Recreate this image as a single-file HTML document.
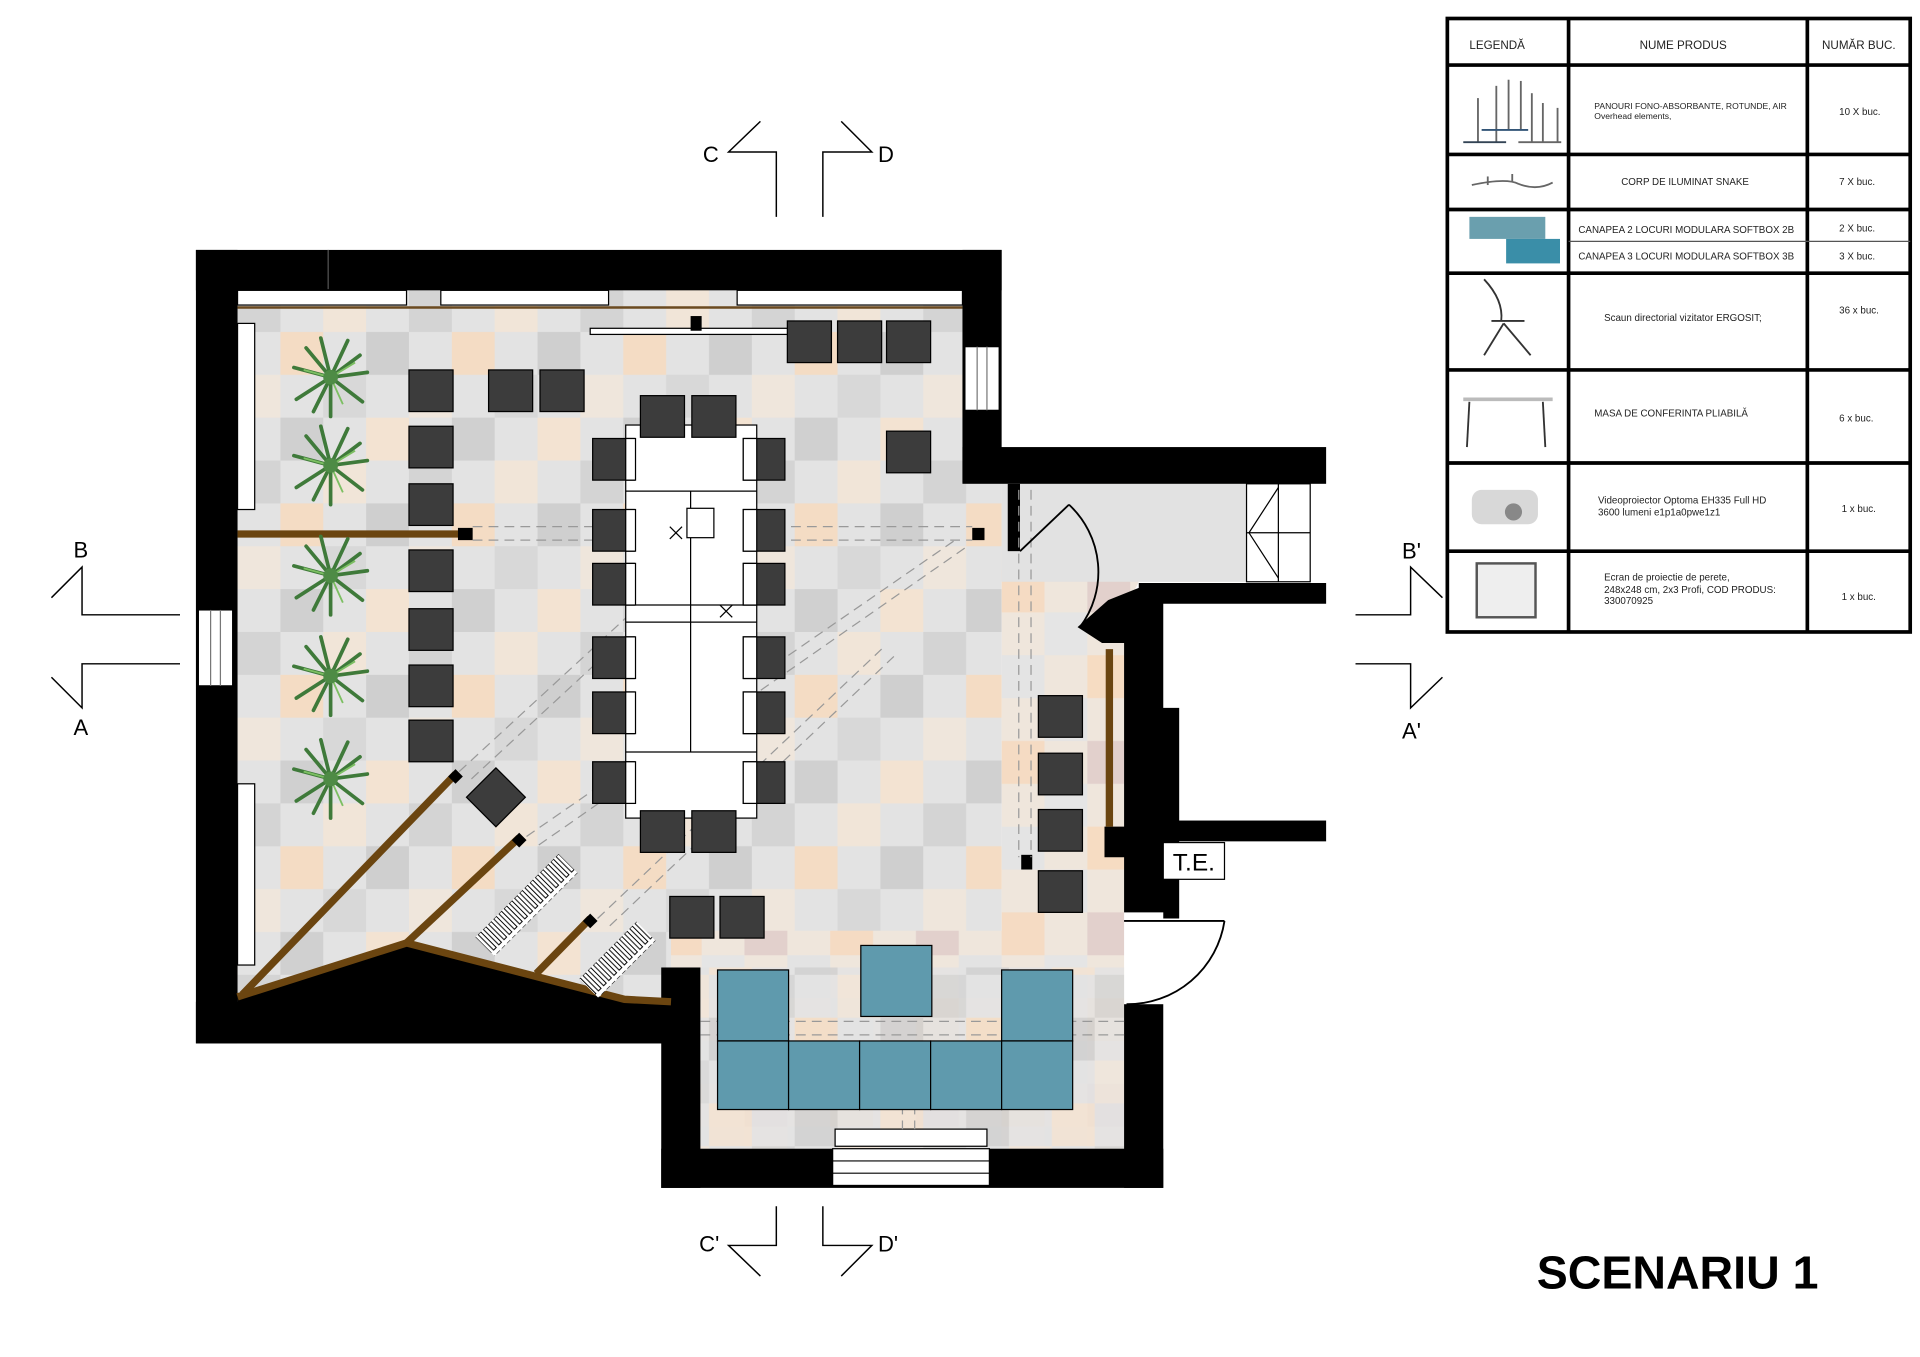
<!DOCTYPE html>
<html><head><meta charset="utf-8"><style>
html,body{margin:0;padding:0;background:#fff;width:1920px;height:1357px;overflow:hidden}
svg{display:block}
text{font-family:"Liberation Sans",sans-serif}
</style></head><body>
<svg width="1920" height="1357" viewBox="0 0 1568 1108" xmlns="http://www.w3.org/2000/svg">
<defs>
<pattern id="tiles" x="194" y="236" width="140" height="140" patternUnits="userSpaceOnUse">
<rect width="140" height="140" fill="#e3e3e3"/>
<rect x="0" y="0" width="35" height="35" fill="#d4d4d4"/>
<rect x="70" y="0" width="35" height="35" fill="#f1e5d8"/>
<rect x="35" y="35" width="35" height="35" fill="#f4dcc4"/>
<rect x="105" y="35" width="35" height="35" fill="#cfcfcf"/>
<rect x="0" y="70" width="35" height="35" fill="#efe6dc"/>
<rect x="70" y="70" width="35" height="35" fill="#d8d8d8"/>
<rect x="35" y="105" width="35" height="35" fill="#d0d0d0"/>
<rect x="105" y="105" width="35" height="35" fill="#f3e3d2"/>
</pattern>
<pattern id="tiles2" x="818" y="395" width="140" height="140" patternUnits="userSpaceOnUse">
<rect width="140" height="140" fill="#efe6dc"/>
<rect x="0" y="0" width="35" height="35" fill="#e4e4e4"/>
<rect x="70" y="0" width="35" height="35" fill="#f6dcc2"/>
<rect x="35" y="35" width="35" height="35" fill="#e4e4e4"/>
<rect x="105" y="35" width="35" height="35" fill="#f3dcc6"/>
<rect x="0" y="70" width="35" height="35" fill="#f5dbc3"/>
<rect x="70" y="70" width="35" height="35" fill="#e2d0cc"/>
<rect x="35" y="105" width="35" height="35" fill="#e5e5e5"/>
<rect x="105" y="105" width="35" height="35" fill="#e3e3e3"/>
</pattern>
<pattern id="stripes" width="6" height="22" patternUnits="userSpaceOnUse">
<rect width="6" height="22" fill="#fff"/>
<rect x="1" y="2" width="3" height="18" fill="none" stroke="#000" stroke-width="0.8"/>
</pattern>
<g id="plant">
<g stroke="#3f7a3a" stroke-width="3" stroke-linecap="round">
<line x1="0" y1="0" x2="-30" y2="-8"/><line x1="0" y1="0" x2="30" y2="-4"/>
<line x1="0" y1="0" x2="-8" y2="-32"/><line x1="0" y1="0" x2="14" y2="-30"/>
<line x1="0" y1="0" x2="-28" y2="18"/><line x1="0" y1="0" x2="26" y2="20"/>
<line x1="0" y1="0" x2="0" y2="32"/><line x1="0" y1="0" x2="-20" y2="-24"/>
<line x1="0" y1="0" x2="24" y2="-18"/><line x1="0" y1="0" x2="-14" y2="28"/>
</g>
<g stroke="#7cbf62" stroke-width="1.5"><line x1="0" y1="0" x2="-22" y2="-6"/><line x1="0" y1="0" x2="20" y2="-12"/><line x1="0" y1="0" x2="10" y2="22"/></g>
<circle r="6" fill="#4e8b45"/>
</g>
</defs>

<!-- floor -->
<polygon points="194,236 786,236 786,395 818,395 818,818 194,818" fill="url(#tiles)"/>
<polygon points="818,395 1018,395 1018,475 930,475 918,500 918,938 572,938 572,818 548,818 548,760 818,760" fill="url(#tiles2)"/>
<rect x="818" y="395" width="200" height="80" fill="#e2e2e2"/>
<rect x="572" y="790" width="346" height="148" fill="url(#tiles)" opacity="0.85"/>

<!-- walls -->
<g fill="#000">
<rect x="160" y="204" width="658" height="33"/>
<rect x="160" y="204" width="34" height="648"/>
<rect x="160" y="818" width="388" height="34"/>
<rect x="786" y="204" width="32" height="190"/>
<rect x="786" y="365" width="297" height="30"/>
<rect x="823" y="395" width="10" height="55"/>
<polygon points="930,476 1083,476 1083,493 950,493 950,578 963,578 963,750 950,750 950,745 918,745 918,700 902,700 902,675 918,675 918,525 900,525 880,512 905,490 930,480"/>
<rect x="950" y="670" width="133" height="17"/>
<rect x="540" y="790" width="32" height="180"/>
<rect x="540" y="938" width="410" height="32"/>
<rect x="918" y="820" width="32" height="150"/>
<polygon points="194,818 194,812 332,770 510,818 548,818 548,852 194,852"/>
</g>
<line x1="268" y1="204" x2="268" y2="236" stroke="#555" stroke-width="1"/>

<!-- windows -->
<g fill="#fff" stroke="#000" stroke-width="1">
<rect x="194" y="237" width="138" height="12"/>
<rect x="360" y="237" width="137" height="12"/>
<rect x="602" y="237" width="184" height="12"/>
<rect x="162" y="498" width="28" height="62"/>
<rect x="788" y="283" width="28" height="52"/>
<rect x="194" y="264" width="14" height="152"/>
<rect x="194" y="640" width="14" height="148"/>
<rect x="482" y="268" width="182" height="5"/>
<rect x="1018" y="395" width="52" height="80"/>
<rect x="682" y="922" width="124" height="14"/>
<rect x="680" y="938" width="128" height="30"/>
</g>
<g stroke="#777" stroke-width="1"><line x1="172" y1="498" x2="172" y2="560"/><line x1="180" y1="498" x2="180" y2="560"/><line x1="798" y1="283" x2="798" y2="335"/><line x1="806" y1="283" x2="806" y2="335"/></g>
<line x1="194" y1="251" x2="786" y2="251" stroke="#6b4a20" stroke-width="2"/>
<g stroke="#000" stroke-width="1" fill="none">
<line x1="1044" y1="395" x2="1044" y2="475"/><line x1="1018" y1="435" x2="1070" y2="435"/>
<polyline points="1044,398 1020,435 1044,472"/>
<line x1="680" y1="948" x2="808" y2="948"/><line x1="680" y1="958" x2="808" y2="958"/>
</g>
<rect x="564" y="258" width="9" height="12" fill="#000"/>

<!-- brown partitions -->
<g stroke="#6b4510" stroke-width="6" stroke-linecap="butt" fill="none">
<line x1="194" y1="436" x2="375" y2="436"/>
<polyline points="194,814 332,770 510,816 548,818"/>
<line x1="198" y1="812" x2="372" y2="632"/>
<line x1="332" y1="770" x2="424" y2="684"/>
<line x1="438" y1="795" x2="482" y2="750"/>
<line x1="906" y1="530" x2="906" y2="675"/>
</g>
<g fill="#000">
<rect x="374" y="431" width="12" height="10"/>
<rect x="794" y="431" width="10" height="10"/>
<rect x="834" y="698" width="9" height="12"/>
<polygon points="366,634 372,628 378,634 372,640"/>
<polygon points="418,686 424,680 430,686 424,692"/>
<polygon points="476,752 482,746 488,752 482,758"/>
</g>

<!-- dashed lines -->
<g stroke="#999" stroke-width="1" stroke-dasharray="8,5" fill="none">
<line x1="386" y1="430" x2="794" y2="430"/><line x1="386" y1="441" x2="794" y2="441"/>
<line x1="832" y1="400" x2="832" y2="700"/><line x1="842" y1="400" x2="842" y2="700"/>
<line x1="572" y1="834" x2="918" y2="834"/><line x1="572" y1="845" x2="918" y2="845"/>
<line x1="375" y1="630" x2="580" y2="441"/><line x1="385" y1="636" x2="590" y2="446"/>
<line x1="430" y1="683" x2="780" y2="441"/><line x1="440" y1="690" x2="790" y2="446"/>
<line x1="488" y1="750" x2="720" y2="530"/><line x1="498" y1="756" x2="730" y2="536"/>
<line x1="737" y1="850" x2="737" y2="922"/><line x1="747" y1="850" x2="747" y2="922"/>
</g>

<!-- door arcs -->
<g stroke="#000" stroke-width="1.5" fill="none">
<line x1="833" y1="450" x2="873" y2="412"/>
<path d="M873,412 A75,75 0 0 1 882,512"/>
<line x1="918" y1="752" x2="1000" y2="752"/>
<path d="M1000,752 A80,80 0 0 1 920,820"/>
</g>
<rect x="950" y="688" width="50" height="30" fill="#fff" stroke="#000"/>
<text x="975" y="711" font-size="20" text-anchor="middle">T.E.</text>

<!-- table -->
<rect x="511" y="347" width="107" height="321" fill="#fff" stroke="#000" stroke-width="1"/>
<g stroke="#000" stroke-width="1">
<line x1="511" y1="401" x2="618" y2="401"/><line x1="511" y1="494" x2="618" y2="494"/>
<line x1="511" y1="508" x2="618" y2="508"/><line x1="511" y1="614" x2="618" y2="614"/>
<line x1="564" y1="401" x2="564" y2="614"/>
<rect x="561" y="415" width="22" height="24" fill="#fff"/>
<line x1="547" y1="430" x2="557" y2="440"/><line x1="557" y1="430" x2="547" y2="440"/>
<line x1="588" y1="494" x2="598" y2="504"/><line x1="598" y1="494" x2="588" y2="504"/>
</g>
<!-- table chairs -->
<g fill="#3c3c3c" stroke="#000" stroke-width="1">
<rect x="523" y="323" width="36" height="34"/><rect x="565" y="323" width="36" height="34"/>
<rect x="523" y="662" width="36" height="34"/><rect x="565" y="662" width="36" height="34"/>
<rect x="484" y="358" width="34" height="34"/><rect x="484" y="416" width="34" height="34"/><rect x="484" y="460" width="34" height="34"/><rect x="484" y="520" width="34" height="34"/><rect x="484" y="565" width="34" height="34"/><rect x="484" y="622" width="34" height="34"/>
<rect x="607" y="358" width="34" height="34"/><rect x="607" y="416" width="34" height="34"/><rect x="607" y="460" width="34" height="34"/><rect x="607" y="520" width="34" height="34"/><rect x="607" y="565" width="34" height="34"/><rect x="607" y="622" width="34" height="34"/>
</g>
<g fill="#fff" stroke="#000" stroke-width="1">
<rect x="511" y="358" width="8" height="34"/><rect x="511" y="416" width="8" height="34"/><rect x="511" y="460" width="8" height="34"/><rect x="511" y="520" width="8" height="34"/><rect x="511" y="565" width="8" height="34"/><rect x="511" y="622" width="8" height="34"/>
<rect x="607" y="358" width="11" height="34"/><rect x="607" y="416" width="11" height="34"/><rect x="607" y="460" width="11" height="34"/><rect x="607" y="520" width="11" height="34"/><rect x="607" y="565" width="11" height="34"/><rect x="607" y="622" width="11" height="34"/>
</g>
<!-- other chairs -->
<g fill="#3c3c3c" stroke="#000" stroke-width="1">
<rect x="334" y="302" width="36" height="34"/><rect x="334" y="348" width="36" height="34"/><rect x="334" y="395" width="36" height="34"/>
<rect x="334" y="449" width="36" height="34"/><rect x="334" y="497" width="36" height="34"/><rect x="334" y="543" width="36" height="34"/><rect x="334" y="588" width="36" height="34"/>
<rect x="399" y="302" width="36" height="34"/><rect x="441" y="302" width="36" height="34"/>
<rect x="643" y="262" width="36" height="34"/><rect x="684" y="262" width="36" height="34"/><rect x="724" y="262" width="36" height="34"/>
<rect x="724" y="352" width="36" height="34"/>
<rect x="547" y="732" width="36" height="34"/><rect x="588" y="732" width="36" height="34"/>
<rect x="848" y="568" width="36" height="34"/><rect x="848" y="615" width="36" height="34"/><rect x="848" y="661" width="36" height="34"/><rect x="848" y="711" width="36" height="34"/>
<rect x="388" y="634" width="34" height="34" transform="rotate(45 405 651)"/>
</g>
<!-- radiators -->
<g stroke="none">
<rect x="382" y="728" width="96" height="22" fill="url(#stripes)" transform="rotate(-45 430 739)"/>
<rect x="471" y="772" width="66" height="22" fill="url(#stripes)" transform="rotate(-45 505 783)"/>
</g>

<!-- sofas -->
<g fill="#5f9aad" stroke="#000" stroke-width="1">
<rect x="586" y="792" width="58" height="58"/><rect x="818" y="792" width="58" height="58"/>
<rect x="703" y="772" width="58" height="58"/>
<rect x="586" y="850" width="58" height="56"/><rect x="644" y="850" width="58" height="56"/><rect x="702" y="850" width="58" height="56"/><rect x="760" y="850" width="58" height="56"/><rect x="818" y="850" width="58" height="56"/>
</g>

<!-- plants -->
<use href="#plant" x="270" y="308"/>
<use href="#plant" x="270" y="380"/>
<use href="#plant" x="270" y="470"/>
<use href="#plant" x="270" y="552"/>
<use href="#plant" x="270" y="636"/>

<!-- section markers -->
<g stroke="#000" stroke-width="1.2" fill="none">
<polyline points="634,177 634,124 595,124 621,99"/>
<polyline points="672,177 672,124 712,124 687,99"/>
<polyline points="634,985 634,1017 595,1017 621,1042"/>
<polyline points="672,985 672,1017 712,1017 687,1042"/>
<polyline points="42,488 67,463 67,502 147,502"/>
<polyline points="147,542 67,542 67,578 42,553"/>
<polyline points="1107,502 1152,502 1152,463 1178,488"/>
<polyline points="1107,542 1152,542 1152,578 1178,553"/>
</g>
<g font-size="18" fill="#000">
<text x="574" y="132">C</text><text x="717" y="132">D</text>
<text x="571" y="1022">C'</text><text x="717" y="1022">D'</text>
<text x="60" y="455">B</text><text x="60" y="600">A</text>
<text x="1145" y="456">B'</text><text x="1145" y="603">A'</text>
</g>
<text x="1255" y="1052" font-size="38" font-weight="bold">SCENARIU 1</text>

<!-- legend table -->
<g fill="none" stroke="#000" stroke-width="3">
<rect x="1182" y="15" width="378" height="501"/>
<line x1="1281" y1="15" x2="1281" y2="516"/><line x1="1476" y1="15" x2="1476" y2="516"/>
<line x1="1182" y1="53" x2="1560" y2="53"/><line x1="1182" y1="126" x2="1560" y2="126"/>
<line x1="1182" y1="171" x2="1560" y2="171"/><line x1="1182" y1="223" x2="1560" y2="223"/>
<line x1="1182" y1="302" x2="1560" y2="302"/><line x1="1182" y1="378" x2="1560" y2="378"/>
<line x1="1182" y1="450" x2="1560" y2="450"/>
</g>
<line x1="1281" y1="197" x2="1560" y2="197" stroke="#555" stroke-width="1"/>
<g font-size="9.5" fill="#222">
<text x="1200" y="40">LEGENDĂ</text><text x="1339" y="40">NUME PRODUS</text><text x="1488" y="40">NUMĂR BUC.</text>
<text x="1302" y="89" font-size="7">PANOURI FONO-ABSORBANTE, ROTUNDE, AIR</text>
<text x="1302" y="97" font-size="7">Overhead elements,</text>
<text x="1502" y="94" font-size="8">10 X buc.</text>
<text x="1324" y="151" font-size="8">CORP DE ILUMINAT SNAKE</text><text x="1502" y="151" font-size="8">7 X buc.</text>
<text x="1289" y="190" font-size="8">CANAPEA 2 LOCURI MODULARA SOFTBOX 2B</text><text x="1502" y="189" font-size="8">2 X buc.</text>
<text x="1289" y="212" font-size="8">CANAPEA 3 LOCURI MODULARA SOFTBOX 3B</text><text x="1502" y="212" font-size="8">3 X buc.</text>
<text x="1310" y="262" font-size="8">Scaun directorial vizitator ERGOSIT;</text><text x="1502" y="256" font-size="8">36 x buc.</text>
<text x="1302" y="340" font-size="8">MASA DE CONFERINTA PLIABILĂ</text><text x="1502" y="344" font-size="8">6 x buc.</text>
<text x="1305" y="411" font-size="8">Videoproiector Optoma EH335 Full HD</text><text x="1305" y="421" font-size="8">3600 lumeni e1p1a0pwe1z1</text><text x="1504" y="418" font-size="8">1 x buc.</text>
<text x="1310" y="474" font-size="8">Ecran de proiectie de perete,</text><text x="1310" y="484" font-size="8">248x248 cm, 2x3 Profi, COD PRODUS:</text><text x="1310" y="493" font-size="8">330070925</text><text x="1504" y="490" font-size="8">1 x buc.</text>
</g>
<!-- legend icons -->
<g stroke="#666" stroke-width="1.5">
<line x1="1207" y1="80" x2="1207" y2="116"/><line x1="1222" y1="70" x2="1222" y2="116"/><line x1="1232" y1="65" x2="1232" y2="106"/><line x1="1242" y1="66" x2="1242" y2="106"/><line x1="1251" y1="76" x2="1251" y2="116"/><line x1="1260" y1="84" x2="1260" y2="116"/><line x1="1272" y1="88" x2="1272" y2="116"/>
<line x1="1195" y1="116" x2="1230" y2="116" stroke="#345"/><line x1="1210" y1="106" x2="1248" y2="106" stroke="#357"/><line x1="1240" y1="116" x2="1275" y2="116"/>
<path d="M1202,151 Q1230,145 1240,150 Q1255,156 1268,149" fill="none"/>
<line x1="1215" y1="151" x2="1215" y2="144"/><line x1="1235" y1="148" x2="1235" y2="142"/>
</g>
<g fill="#6a9fae"><rect x="1200" y="177" width="62" height="18"/><rect x="1230" y="195" width="44" height="20" fill="#3a8ea8"/></g>
<g stroke="#333" stroke-width="1.5" fill="none">
<path d="M1212,228 Q1228,245 1226,262"/><line x1="1218" y1="262" x2="1245" y2="262"/>
<line x1="1228" y1="264" x2="1212" y2="290"/><line x1="1228" y1="264" x2="1250" y2="290"/>
<line x1="1195" y1="326" x2="1268" y2="326" stroke="#bbb" stroke-width="3"/>
<line x1="1200" y1="328" x2="1198" y2="365"/><line x1="1260" y1="328" x2="1262" y2="365"/>
</g>
<rect x="1202" y="400" width="54" height="28" rx="8" fill="#d8d8d8"/><circle cx="1236" cy="418" r="7" fill="#888"/>
<rect x="1206" y="460" width="48" height="44" fill="#eee" stroke="#555" stroke-width="2"/>
</svg>
</body></html>
